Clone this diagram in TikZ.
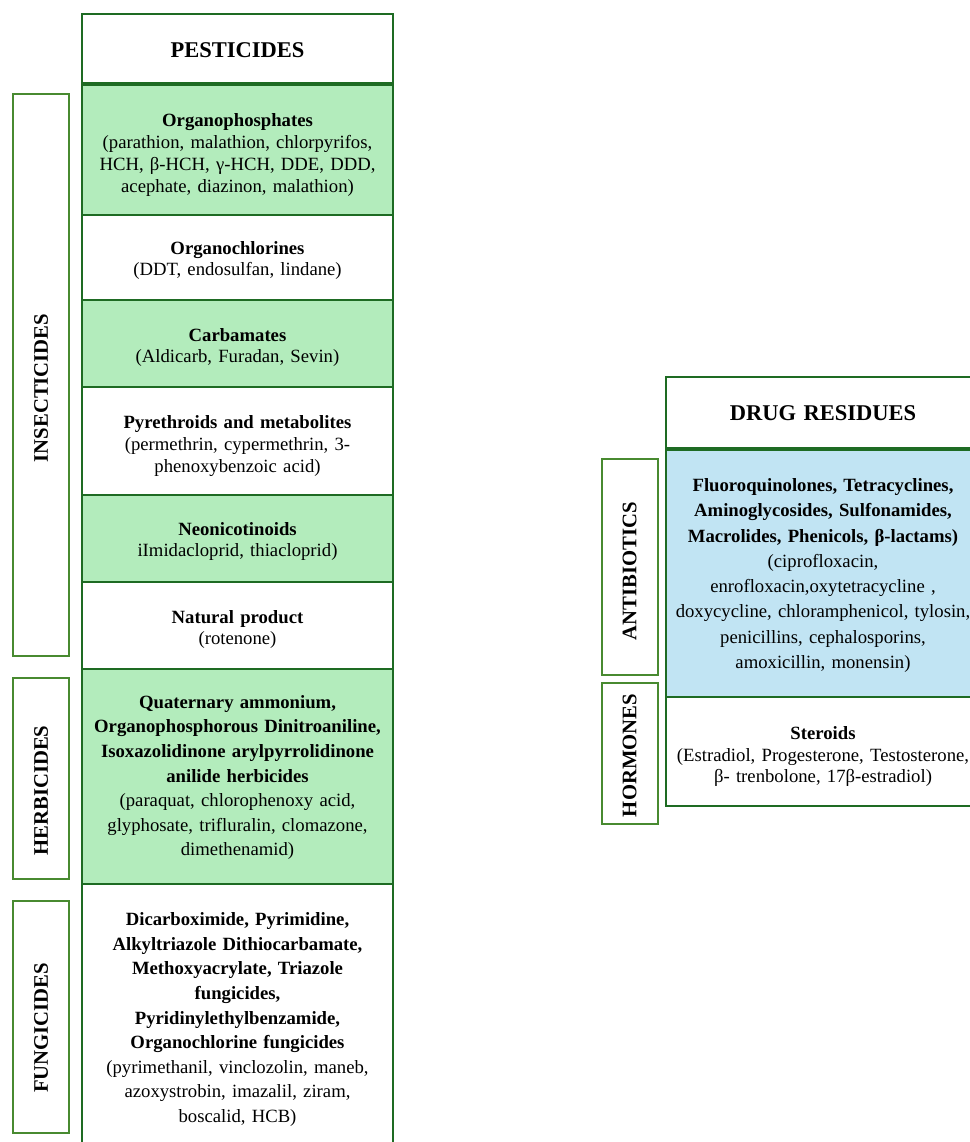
\documentclass[tikz,border=0pt]{standalone}
\usepackage{fontspec}
\setmainfont{Liberation Serif}
\usepackage{tikz}
\usetikzlibrary{positioning}
\definecolor{pestgreen}{RGB}{30, 107, 35}
\definecolor{sidegreen}{RGB}{72, 138, 48}
\definecolor{rowgreen}{RGB}{179, 236, 188}
\definecolor{drugblue}{RGB}{193, 228, 243}
\newcommand{\bodyfont}{\fontsize{18.7}{21.7}\selectfont}
\newcommand{\widefont}{\fontsize{18.7}{24.6}\selectfont}
\newcommand{\drugfont}{\fontsize{18.7}{25.3}\selectfont}
\newcommand{\headfont}{\fontsize{22.5}{27}\selectfont\bfseries}
\newcommand{\sidefont}{\fontsize{20.7}{24}\selectfont\bfseries}

\begin{document}
\begin{tikzpicture}[x=1pt, y=-1pt,
  rowbox/.style={draw=pestgreen, line width=2pt, inner sep=0pt},
  pestrow/.style={rowbox, minimum width=311pt},
  drugrow/.style={rowbox, minimum width=314pt},
  rowtext/.style={inner sep=0pt, align=center, text width=312pt, font=\bodyfont},
  sidebox/.style={draw=sidegreen, line width=2pt, minimum width=56pt, inner sep=0pt},
  sidetext/.style={rotate=90, inner sep=0pt, font=\sidefont}]
  \useasboundingbox (0,0) rectangle (969,1142);

  % Pesticides column
  \node[pestrow, minimum height=69pt] (pest) at (237.5,48.5) {};
  \node[pestrow, fill=rowgreen, minimum height=132pt] (organophos) at (237.5,149) {};
  \node[pestrow, minimum height=85pt] (organochl) at (237.5,257.5) {};
  \node[pestrow, fill=rowgreen, minimum height=87pt] (carbamates) at (237.5,343.5) {};
  \node[pestrow, minimum height=108pt] (pyrethroids) at (237.5,441) {};
  \node[pestrow, fill=rowgreen, minimum height=87pt] (neonic) at (237.5,538.5) {};
  \node[pestrow, minimum height=87pt] (natural) at (237.5,625.5) {};
  \node[pestrow, fill=rowgreen, minimum height=215pt] (herb) at (237.5,776.5) {};
  \node[pestrow, minimum height=268pt] (fung) at (237.5,1018) {};
  \draw[pestgreen, line width=3.5pt] (pest.south west) -- (pest.south east);

  \node[rowtext, font=\headfont] (pesttxt) at ([yshift=-2pt]pest.center) {PESTICIDES};
  \node[rowtext] (organophostxt) at ([yshift=-6pt]organophos.center) {
    \textbf{Organophosphates}\\
    (parathion, malathion, chlorpyrifos,\\
    HCH, β-HCH, γ-HCH, DDE, DDD,\\
    acephate, diazinon, malathion)
  };
  \node[rowtext] (organochltxt) at ([yshift=-3pt]organochl.center) {
    \textbf{Organochlorines}\\
    (DDT, endosulfan, lindane)
  };
  \node[rowtext] (carbamatestxt) at ([yshift=-4pt]carbamates.center) {
    \textbf{Carbamates}\\
    (Aldicarb, Furadan, Sevin)
  };
  \node[rowtext] (pyrethroidstxt) at ([yshift=-5pt]pyrethroids.center) {
    \textbf{Pyrethroids and metabolites}\\
    (permethrin, cypermethrin, 3-\\
    phenoxybenzoic acid)
  };
  \node[rowtext] (neonictxt) at ([yshift=-3pt]neonic.center) {
    \textbf{Neonicotinoids}\\
    iImidacloprid, thiacloprid)
  };
  \node[rowtext] (naturaltxt) at ([yshift=-4pt]natural.center) {
    \textbf{Natural product}\\
    (rotenone)
  };
  \node[rowtext, font=\widefont] (herbtxt) at ([yshift=-1pt]herb.center) {
    \textbf{Quaternary ammonium,}\\
    \textbf{Organophosphorous Dinitroaniline,}\\
    \textbf{Isoxazolidinone arylpyrrolidinone}\\
    \textbf{anilide herbicides}\\
    (paraquat, chlorophenoxy acid,\\
    glyphosate, trifluralin, clomazone,\\
    dimethenamid)
  };
  \node[rowtext, font=\widefont] (fungtxt) at ([yshift=-1.5pt]fung.center) {
    \textbf{Dicarboximide, Pyrimidine,}\\
    \textbf{Alkyltriazole Dithiocarbamate,}\\
    \textbf{Methoxyacrylate, Triazole}\\
    \textbf{fungicides,}\\
    \textbf{Pyridinylethylbenzamide,}\\
    \textbf{Organochlorine fungicides}\\
    (pyrimethanil, vinclozolin, maneb,\\
    azoxystrobin, imazalil, ziram,\\
    boscalid, HCB)
  };

  % Pesticide groups
  \node[sidebox, minimum height=562pt] (insect) at (41,375) {};
  \node[sidebox, minimum height=201pt] (herblabel) at (41,778.5) {};
  \node[sidebox, minimum height=232pt] (funglabel) at (41,1017) {};
  \node[sidetext] (insecttxt) at ([yshift=-13pt]insect.center) {INSECTICIDES};
  \node[sidetext] (herblabeltxt) at ([yshift=-12pt]herblabel.center) {HERBICIDES};
  \node[sidetext] (funglabeltxt) at ([yshift=-11pt]funglabel.center) {FUNGICIDES};

  % Drug residues column
  \node[drugrow, minimum height=71pt] (drug) at (823,412.5) {};
  \node[drugrow, fill=drugblue, minimum height=249pt] (antibio) at (823,572.5) {};
  \node[drugrow, minimum height=109pt] (steroids) at (823,751.5) {};
  \draw[pestgreen, line width=3.5pt] (drug.south west) -- (drug.south east);

  \node[rowtext, font=\headfont] (drugtxt) at ([yshift=-1pt]drug.center) {DRUG RESIDUES};
  \node[rowtext, font=\drugfont] (antibiotxt) at ([yshift=-3pt]antibio.center) {
    \textbf{Fluoroquinolones, Tetracyclines,}\\
    \textbf{Aminoglycosides, Sulfonamides,}\\
    \textbf{Macrolides, Phenicols, β-lactams)}\\
    (ciprofloxacin,\\
    enrofloxacin,oxytetracycline ,\\
    doxycycline, chloramphenicol, tylosin,\\
    penicillins, cephalosporins,\\
    amoxicillin, monensin)
  };
  \node[rowtext] (steroidstxt) at ([yshift=-5pt]steroids.center) {
    \textbf{Steroids}\\
    (Estradiol, Progesterone, Testosterone,\\
    β- trenbolone, 17β-estradiol)
  };

  % Drug groups
  \node[sidebox, minimum height=216pt] (antilabel) at (629.5,567) {};
  \node[sidebox, minimum height=141pt] (hormlabel) at (629.5,753.5) {};
  \node[sidetext] (antilabeltxt) at ([yshift=-4pt]antilabel.center) {ANTIBIOTICS};
  \node[sidetext] (hormlabeltxt) at ([yshift=-2pt]hormlabel.center) {HORMONES};
\end{tikzpicture}
\end{document}
